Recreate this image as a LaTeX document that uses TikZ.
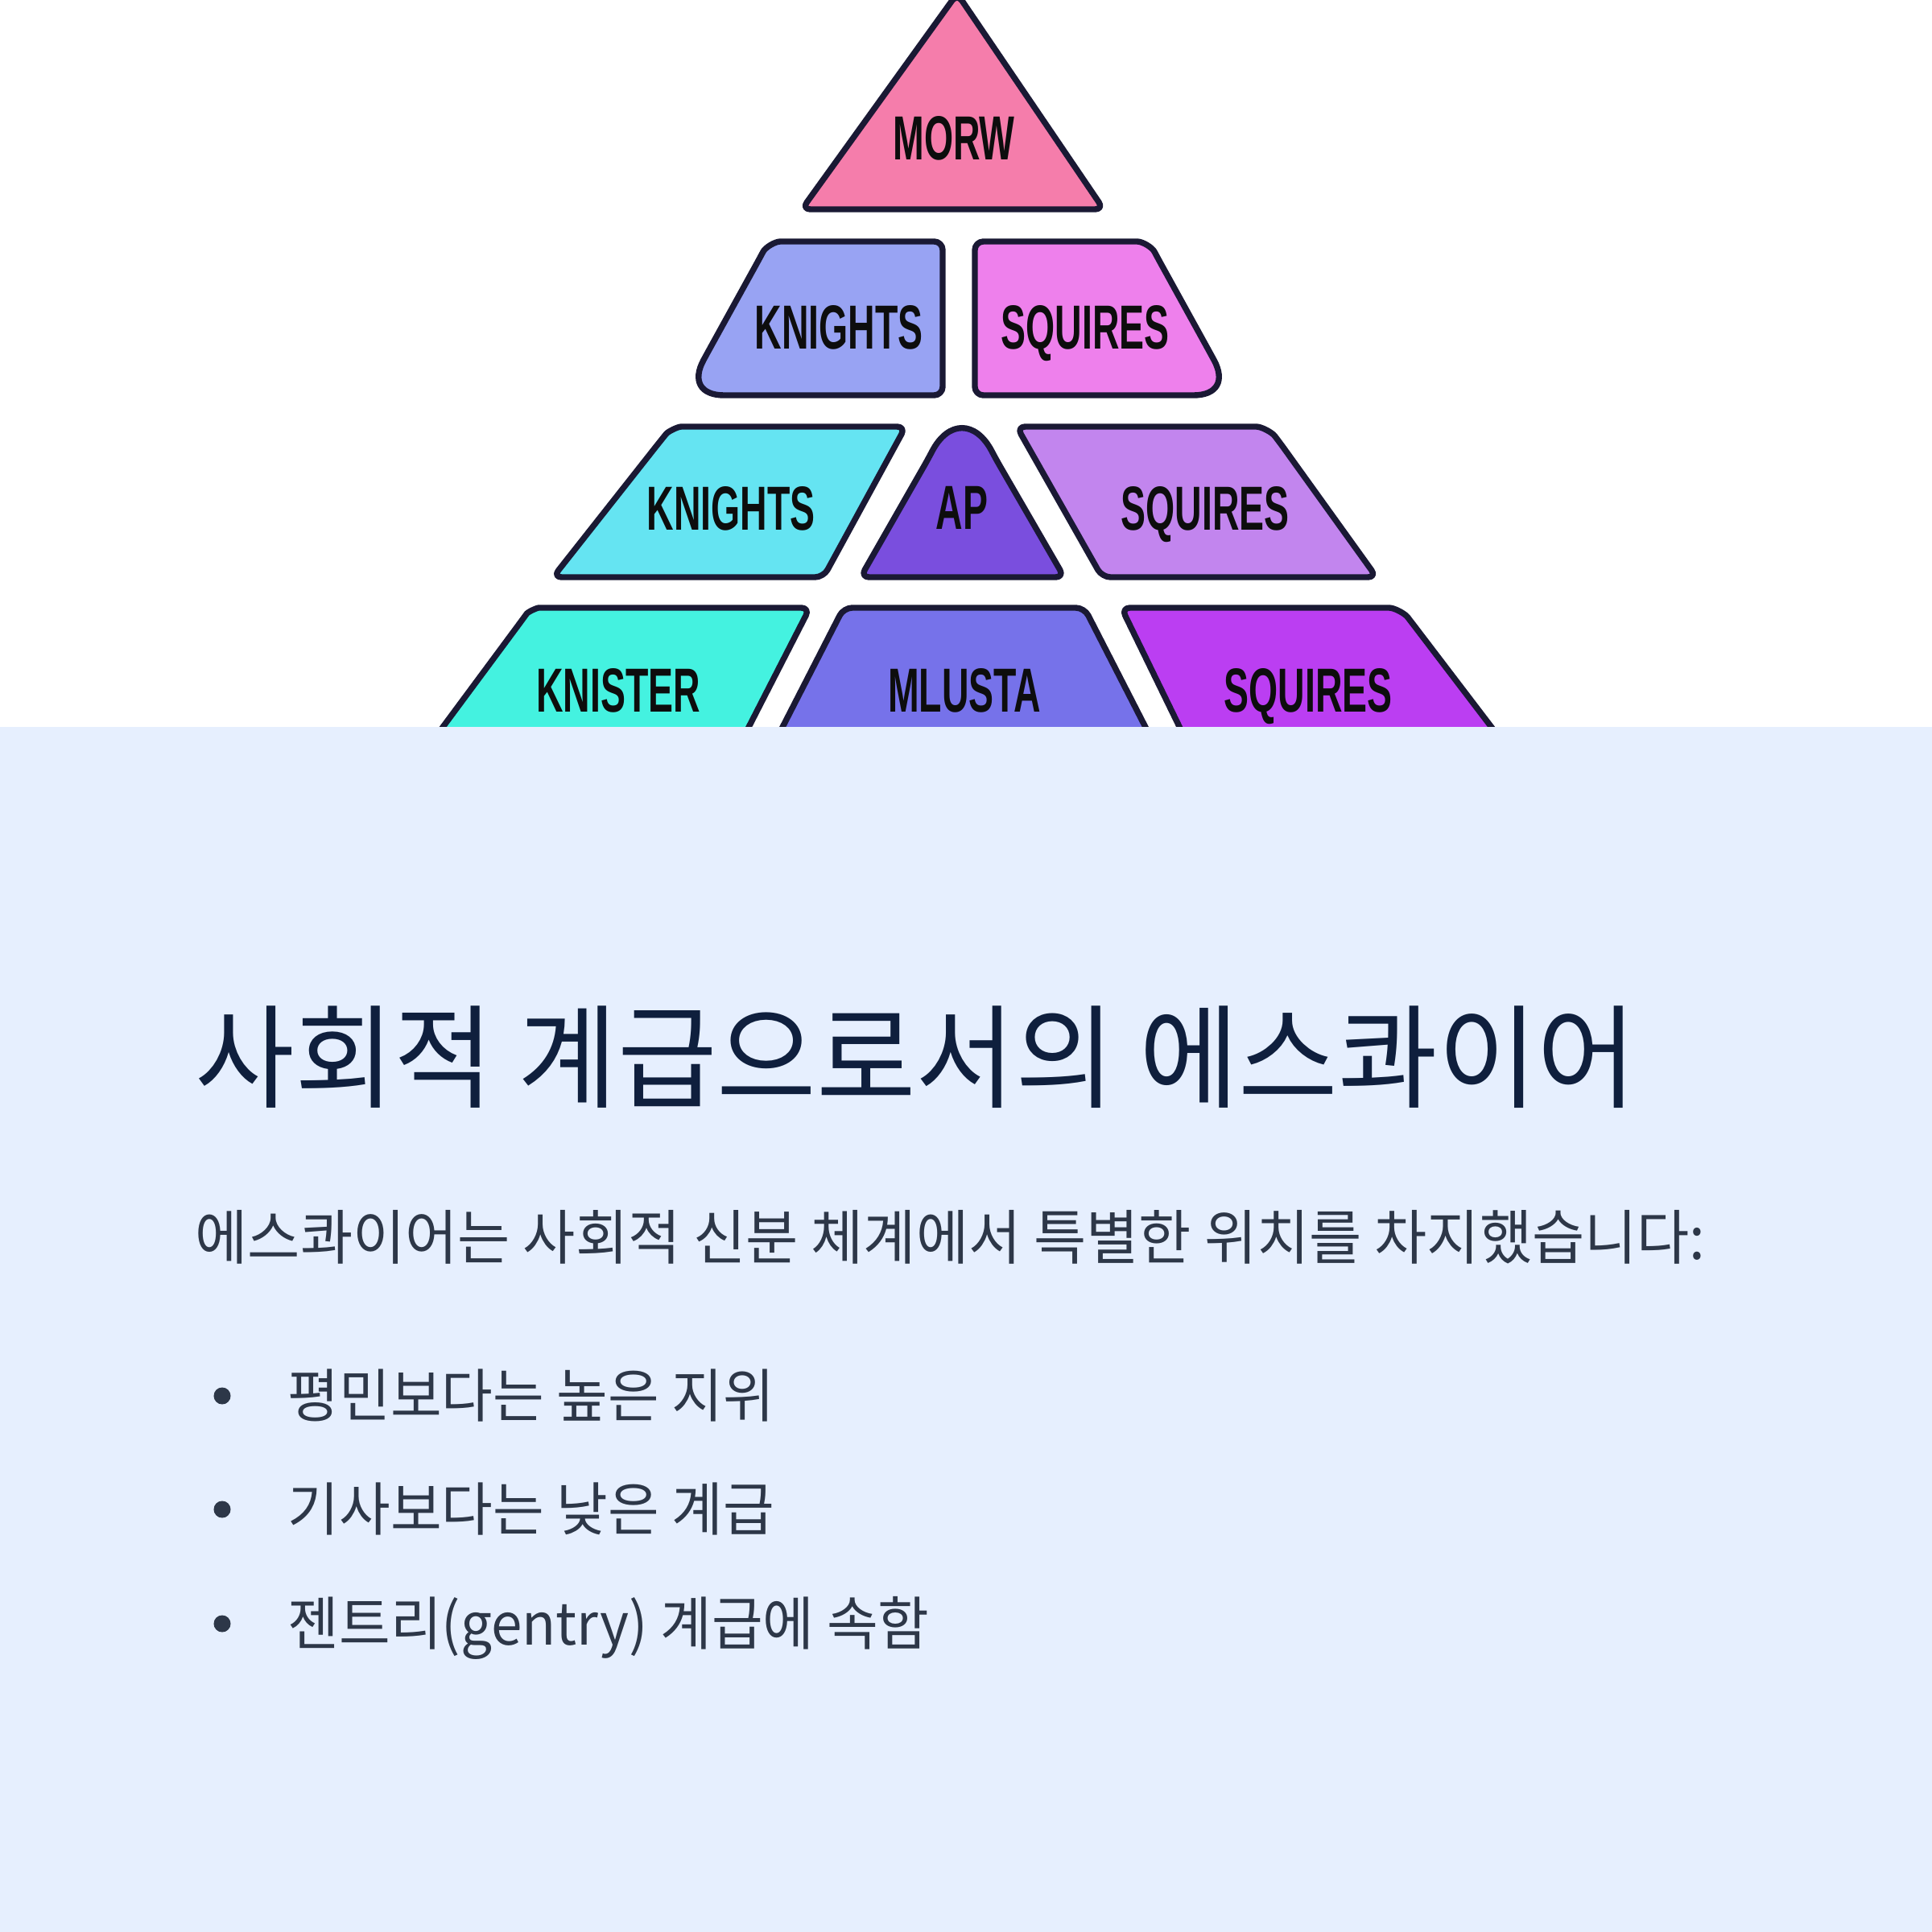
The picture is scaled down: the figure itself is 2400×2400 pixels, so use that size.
\documentclass[tikz,border=0pt]{standalone}
\usepackage{fontspec}
\usepackage{tikz}
\usetikzlibrary{calc}
\newfontfamily\krfont[FakeStretch=0.96]{Noto Sans CJK KR}
\newfontfamily\tagfont[FakeStretch=0.6]{Liberation Sans}
\definecolor{outline}{RGB}{26,25,52}
\definecolor{panel}{RGB}{230,239,254}
\definecolor{titleink}{RGB}{15,31,61}
\definecolor{bodyink}{RGB}{45,55,72}
\definecolor{rose}{RGB}{245,125,171}
\definecolor{periwinkle}{RGB}{152,163,243}
\definecolor{orchid}{RGB}{238,128,236}
\definecolor{aqua}{RGB}{101,228,242}
\definecolor{violet}{RGB}{122,78,222}
\definecolor{lilac}{RGB}{194,133,238}
\definecolor{turq}{RGB}{68,242,224}
\definecolor{slateblue}{RGB}{118,114,234}
\definecolor{magenta}{RGB}{187,62,242}

\begin{document}
\begin{tikzpicture}[
    x=0.01cm, y=-0.01cm,
    block/.style={draw=outline, line width=2.1pt, line join=round, rounded corners=3pt},
    tag/.style={font=\tagfont\bfseries\fontsize{22}{22}\selectfont, text=black!95, text depth=0pt},
    heading/.style={anchor=base west, text=titleink, inner sep=0pt, font=\krfont\fontsize{39.8}{46}\selectfont},
    lead/.style={anchor=base west, text=bodyink, inner sep=0pt, font=\krfont\fontsize{21}{25}\selectfont},
    body/.style={anchor=base west, text=bodyink, inner sep=0pt, font=\krfont\fontsize{20.5}{24}\selectfont},
    dot/.style={circle, fill=bodyink, inner sep=0pt, minimum size=0.21cm}
]
    \useasboundingbox (0,0) rectangle (2400,2400);
    \clip (0,0) rectangle (2400,2400);
    \fill[white] (0,0) rectangle (2400,903);

    % pyramid, top row
    \draw[block, fill=rose] (1189,-8) -- (1371,260) -- (996,260) -- cycle;
    \node[tag] (morw) at (1185,171) {MORW};

    % second row
    \draw[block, fill=periwinkle] (1171,491) -- (910,491) .. controls (870,491) and (860,473) .. (879,438)
        -- (943,322) .. controls (951,307) and (963,300) .. (980,300) -- (1171,300) -- cycle;
    \draw[block, fill=orchid] (1211,491) -- (1472,491) .. controls (1512,491) and (1522,473) .. (1503,438)
        -- (1439,322) .. controls (1431,307) and (1419,300) .. (1402,300) -- (1211,300) -- cycle;
    \node[tag] (knights1) at (1042,406) {KNIGHTS};
    \node[tag] (squires1) at (1348,406) {SQUIRES};

    % third row
    \draw[block, fill=aqua] (687,717) -- (821,547) .. controls (830,536) and (842,530) .. (857,530)
        -- (1125,530) -- (1023,717) -- cycle;
    \draw[block, fill=violet] (1069,717) -- (1153,570) .. controls (1178,522) and (1212,522) .. (1237,570)
        -- (1322,717) -- cycle;
    \draw[block, fill=lilac] (1369,717) -- (1263,530) -- (1550,530) .. controls (1567,530) and (1580,537) .. (1590,550)
        -- (1710,717) -- cycle;
    \node[tag] (knights2) at (908,631) {KNIGHTS};
    \node[tag] (ap) at (1195,631) {AP};
    \node[tag] (squires2) at (1497,631) {SQUIRES};

    % bottom row, cut by the panel
    \draw[block, fill=turq] (508,960) -- (648,771) .. controls (656,760) and (667,755) .. (680,755)
        -- (1006,755) -- (901,960) -- cycle;
    \draw[block, fill=slateblue] (943,960) -- (1048,755) -- (1347,755) -- (1452,960) -- cycle;
    \draw[block, fill=magenta] (1493,960) -- (1393,755) -- (1715,755) .. controls (1732,755) and (1745,762) .. (1755,775)
        -- (1896,960) -- cycle;
    \node[tag] (knister) at (768,857) {KNISTER};
    \node[tag] (mlusta) at (1198,857) {MLUSTA};
    \node[tag] (squires3) at (1625,857) {SQUIRES};

    % text panel
    \fill[panel] (0,903) rectangle (2400,2400);
    \node[heading] (title) at (242,1365) {사회적 계급으로서의 에스콰이어};
    \node[lead] (intro) at (242,1564) {에스콰이어는 사회적 신분 체계에서 특별한 위치를 차지했습니다:};

    \node[dot] (dot1) at (276,1734) {};
    \node[dot] (dot2) at (276,1875) {};
    \node[dot] (dot3) at (276,2017) {};
    \node[body] (item1) at (357,1760) {평민보다는 높은 지위};
    \node[body] (item2) at (357,1901) {기사보다는 낮은 계급};
    \node[body] (item3) at (357,2043) {젠트리(gentry) 계급에 속함};
\end{tikzpicture}
\end{document}
